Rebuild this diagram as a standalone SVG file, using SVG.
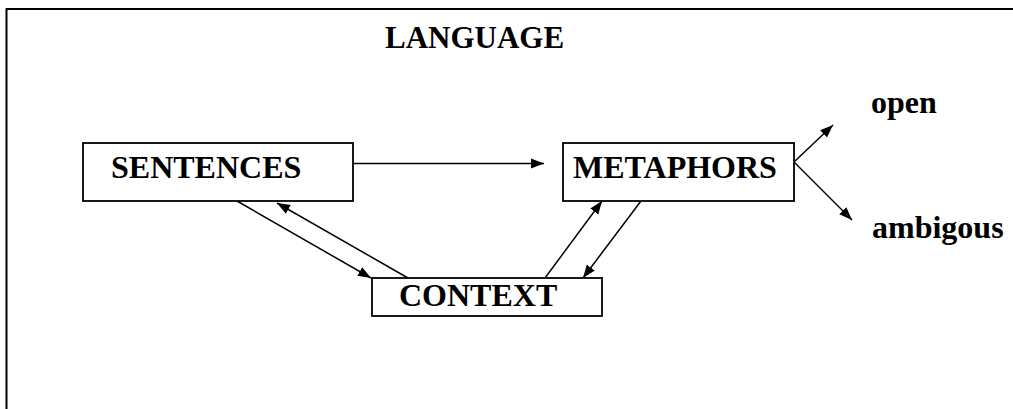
<svg xmlns="http://www.w3.org/2000/svg" width="1013" height="409" viewBox="0 0 1013 409">
<style>
.box{fill:#fff;stroke:#000;stroke-width:1.8}
.lbl{font-family:"Liberation Serif","Times New Roman",serif;font-weight:bold;font-size:32px;fill:#000}
.con{stroke:#000;stroke-width:1.5;fill:none;marker-end:url(#ah)}
</style>
<defs>
<marker id="ah" markerUnits="userSpaceOnUse" markerWidth="14" markerHeight="12" viewBox="0 0 14 12" refX="13" refY="6" orient="auto">
<path d="M0,1 L13,6 L0,11 Z" fill="#000"/>
</marker>
</defs>
<path d="M6.5,409 V9 H1013" fill="none" stroke="#000" stroke-width="2"/>
<text class="lbl" x="385" y="48" style="font-size:31px">LANGUAGE</text>
<g id="connectors">
<line class="con" x1="353" y1="163.5" x2="544" y2="163.5"/>
<line class="con" x1="794" y1="162" x2="833" y2="125"/>
<line class="con" x1="794" y1="162" x2="852" y2="220"/>
<line class="con" x1="237" y1="201" x2="371" y2="278"/>
<line class="con" x1="408" y1="278" x2="277" y2="203"/>
<line class="con" x1="545" y1="278" x2="602" y2="201"/>
<line class="con" x1="641" y1="201" x2="583" y2="278"/>
</g>
<g id="sentences">
<rect class="box" x="83" y="143" width="270" height="58"/>
<text class="lbl" x="111" y="178">SENTENCES</text>
</g>
<g id="metaphors">
<rect class="box" x="563" y="143" width="231" height="58"/>
<text class="lbl" x="573" y="178">METAPHORS</text>
</g>
<g id="context">
<rect class="box" x="372" y="278" width="230" height="38"/>
<text class="lbl" x="399" y="306">CONTEXT</text>
</g>
<g id="open">
<text class="lbl" x="871" y="113">open</text>
</g>
<g id="ambigous">
<text class="lbl" x="872" y="238">ambigous</text>
</g>
</svg>
